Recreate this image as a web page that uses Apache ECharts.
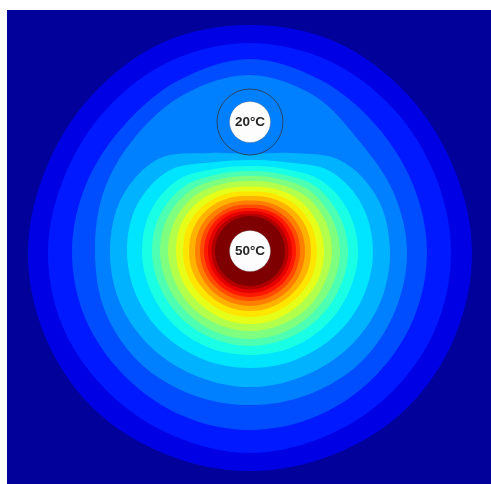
<!DOCTYPE html>
<html>
<head>
<meta charset="utf-8">
<script src="https://cdn.jsdelivr.net/npm/echarts@6/dist/echarts.min.js"></script>
<style>
  html, body { margin: 0; padding: 0; background: #fff; }
  #chart { width: 491px; height: 484px; }
</style>
</head>
<body>
<div id="chart"></div>
<script>
// directions (deg, 0 = east, counter-clockwise) at which the isotherms were read
var angles = [0, 22.5, 45, 67.5, 90, 112.5, 135, 157.5, 180, 202.5, 225, 247.5, 270, 292.5, 315, 337.5];

// isotherm levels (degC), outermost first, and the temperature shown inside each
var levels    = [13, 15, 17, 19, 21, 23, 25, 27, 29, 31, 33, 35, 37, 39, 41, 43, 45, 47, 49];
var bandTemps = [14, 16, 18, 20, 22, 24, 26, 28, 30, 32, 34, 36, 38, 40, 42, 44, 46, 48, 50];

// distance of each isotherm from the hot cylinder axis, per direction
var r13 = [222, 220, 222, 226, 226, 226, 222, 220, 222, 222, 222, 220, 220, 220, 222, 222];
var r15 = [201, 200, 202, 206, 208, 206, 202, 200, 202, 202, 200, 200, 202, 200, 200, 201];
var r17 = [177, 176, 178, 185, 192, 185, 178, 177, 178, 178, 177, 178, 179, 178, 177, 177];
var r19 = [157, 155, 155, 168, 176, 170, 162, 158, 155, 157, 157, 155, 154, 155, 157, 157];
var r21 = [140, 138, 128, 106, 97, 106, 130, 139, 140, 140, 138, 136, 136, 136, 138, 140];
var r23 = [123, 121, 113, 96, 91, 96, 114, 122, 123, 122, 120, 118, 117, 118, 120, 122];
var r25 = [108, 106, 100, 89, 85, 89, 101, 107, 108, 107, 106, 105, 104, 105, 106, 107];
var r27 = [98, 96, 92, 83, 80, 83, 92, 97, 98, 97, 96, 95, 95, 95, 96, 97];
var r29 = [90, 88, 85, 78, 75, 78, 85, 89, 90, 89, 88, 88, 88, 88, 88, 89];
var r31 = [82, 81, 78, 72.5, 70, 72.5, 78, 81, 82, 81, 81, 80, 80, 80, 81, 81];
var r33 = [74, 73, 71, 67, 64.5, 67, 71, 74, 74, 74, 73, 73, 73, 73, 73, 74];
var r35 = [67, 66.5, 65, 62, 59.5, 62, 65, 67, 67, 67, 66, 66, 66, 66, 66, 67];
var r37 = [61, 61, 59.5, 57, 55, 57, 59.5, 61, 61, 61, 60, 60, 60, 60, 60, 61];
var r39 = [55, 55, 54, 52, 50.5, 52, 54, 55, 55, 55, 55, 55, 55, 55, 55, 55];
var r41 = [50, 50, 49, 48, 46.5, 48, 49, 50, 50, 50, 50, 50, 50, 50, 50, 50];
var r43 = [46, 46, 45.5, 44, 43, 44, 45.5, 46, 46, 46, 46, 46, 46, 46, 46, 46];
var r45 = [42, 42, 42, 41, 40, 41, 42, 42, 42, 42, 42, 42, 42, 42, 42, 42];
var r47 = [38.5, 38.5, 38.5, 38, 37.5, 38, 38.5, 38.5, 38.5, 38.5, 38.5, 38.5, 38.5, 38.5, 38.5, 38.5];
var r49 = [35, 35, 35, 35, 35, 35, 35, 35, 35, 35, 35, 35, 35, 35, 35, 35];
var contourRadii = [r13, r15, r17, r19, r21, r23, r25, r27, r29, r31, r33, r35, r37, r39, r41, r43, r45, r47, r49];

// the two cylinders: label, temperature, position (distance, direction) and radius
var sourceNames  = ['20°C', '50°C'];
var sourceTemps  = [20, 50];
var sourceDist   = [129, 0];
var sourceAngle  = [90, 0];
var sourceRadius = [33, 33];

var jet = ['#00007f', '#0000ff', '#007fff', '#00ffff', '#7fff7f', '#ffff00', '#ff7f00', '#ff0000', '#7f0000'];

var contourData = levels.map(function (l, i) { return [bandTemps[i], i]; });
var sourceData = sourceNames.map(function (n, i) {
  return [sourceTemps[i], sourceDist[i], sourceAngle[i], sourceRadius[i]];
});
var labelData = sourceNames.map(function (n, i) {
  return { name: n, value: [sourceDist[i], sourceAngle[i]] };
});

var chart = echarts.init(document.getElementById('chart'));

chart.setOption({
  animation: false,
  grid: { left: 7, top: 10, right: 0, bottom: 0, show: true, backgroundColor: '#02029a', borderWidth: 0 },
  xAxis: { type: 'value', show: false },
  yAxis: { type: 'value', show: false },
  polar: { center: [250, 251], radius: 250 },
  radiusAxis: {
    type: 'value', min: 0, max: 250,
    axisLine: { show: false }, axisTick: { show: false }, axisLabel: { show: false }, splitLine: { show: false }
  },
  angleAxis: {
    type: 'value', min: 0, max: 360, startAngle: 0, clockwise: false,
    axisLine: { show: false }, axisTick: { show: false }, axisLabel: { show: false }, splitLine: { show: false }
  },
  visualMap: {
    show: false, type: 'continuous', min: 10, max: 50, dimension: 0,
    seriesIndex: [0, 1], inRange: { color: jet }
  },
  series: [
    {
      name: 'isotherms',
      type: 'custom',
      coordinateSystem: 'polar',
      silent: true,
      data: contourData,
      renderItem: function (params, api) {
        var rs = contourRadii[api.value(1)];
        var pts = angles.map(function (a, k) { return api.coord([rs[k], a]); });
        return {
          type: 'polygon',
          shape: { points: pts, smooth: 0.34 },
          style: { fill: api.visual('color') }
        };
      }
    },
    {
      name: 'cylinders',
      type: 'custom',
      coordinateSystem: 'polar',
      silent: true,
      data: sourceData,
      renderItem: function (params, api) {
        var c = api.coord([api.value(1), api.value(2)]);
        var o = api.coord([0, 0]);
        var e = api.coord([api.value(3), 0]);
        var cold = api.value(0) < 30;
        return {
          type: 'circle',
          shape: { cx: c[0], cy: c[1], r: e[0] - o[0] },
          style: {
            fill: api.visual('color'),
            stroke: cold ? '#27466b' : null,
            lineWidth: cold ? 1 : 0
          }
        };
      }
    },
    {
      name: 'labels',
      type: 'scatter',
      coordinateSystem: 'polar',
      silent: true,
      symbol: 'circle',
      symbolSize: 41,
      itemStyle: { color: '#fdfdfd', opacity: 1, borderColor: 'rgba(90,90,90,0.3)', borderWidth: 1 },
      label: {
        show: true, position: 'inside', formatter: '{b}',
        color: '#262626', fontWeight: 'bold', fontSize: 13.5, fontFamily: 'Liberation Sans, Arial, sans-serif'
      },
      data: labelData
    }
  ]
});
</script>
</body>
</html>
